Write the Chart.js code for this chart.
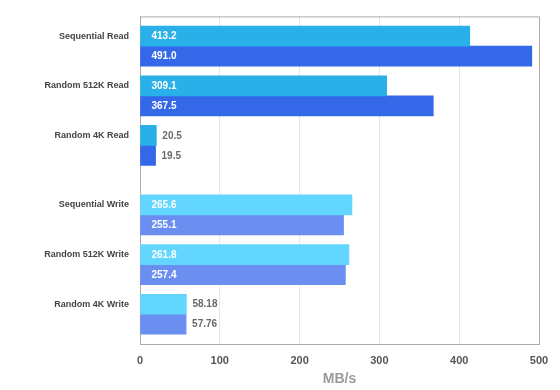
<!DOCTYPE html>
<html>
<head>
<meta charset="utf-8">
<script src="https://cdn.jsdelivr.net/npm/chart.js@4"></script>
<style>
  html, body { margin: 0; padding: 0; background: #fff; }
  #wrap { width: 560px; height: 390px; }
</style>
</head>
<body>
<div id="wrap"><canvas id="grafico"></canvas></div>
<script>
// test names, top to bottom
const tests = ['Sequential Read', 'Random 512K Read', 'Random 4K Read', 'Sequential Write', 'Random 512K Write', 'Random 4K Write'];
// MB/s, kept as the text shown on the bars
const upperBars = ['413.2', '309.1', '20.5', '265.6', '261.8', '58.18'];
const lowerBars = ['491.0', '367.5', '19.5', '255.1', '257.4', '57.76'];
const xTicks = [0, 100, 200, 300, 400, 500];

const FONT = '"Liberation Sans", Arial, Helvetica, sans-serif';

// row slots on the y scale, writes get a little extra gap
const rowAt = tests.map((t, i) => 3 + i * 5 + (i > 2 ? 2 : 0));

function isRead(i) {
    return tests[i].indexOf('Read') >= 0;
}

const upperColors = tests.map((t, i) => isRead(i) ? '#29b0e8' : '#62d6fe');
const lowerColors = tests.map((t, i) => isRead(i) ? '#3468e8' : '#6b8ef1');

const valueLabels = {
    id: 'valueLabels',
    afterDatasetsDraw(chart) {
        let ctx = chart.ctx;
        ctx.save();
        ctx.font = 'bold 10px ' + FONT;
        ctx.textBaseline = 'middle';
        ctx.textAlign = 'left';
        chart.data.datasets.forEach((ds, di) => {
            chart.getDatasetMeta(di).data.forEach((bar, i) => {
                let txt = ds.shown[i];
                if (ds.data[i].x > 100) {
                    ctx.fillStyle = '#ffffff';
                    ctx.fillText(txt, bar.base + 11, bar.y + 0.5);
                } else {
                    ctx.fillStyle = '#6a6a6a';
                    ctx.fillText(txt, bar.x + 6, bar.y + 0.5);
                }
            });
        });
        ctx.restore();
    }
};

// top and right edge of the frame
const frame = {
    id: 'frame',
    afterDraw(chart) {
        let a = chart.chartArea;
        let ctx = chart.ctx;
        ctx.save();
        ctx.strokeStyle = '#ababab';
        ctx.lineWidth = 1;
        ctx.beginPath();
        ctx.moveTo(a.left, a.top + 0.5);
        ctx.lineTo(a.right + 0.5, a.top + 0.5);
        ctx.lineTo(a.right + 0.5, a.bottom);
        ctx.stroke();
        ctx.restore();
    }
};

const data = {
    datasets: [{
            label: 'upper',
            shown: upperBars,
            data: upperBars.map((v, i) => ({ x: parseFloat(v), y: rowAt[i] })),
            backgroundColor: upperColors,
            barThickness: 20
        },
        {
            label: 'lower',
            shown: lowerBars,
            data: lowerBars.map((v, i) => ({ x: parseFloat(v), y: rowAt[i] })),
            backgroundColor: lowerColors,
            barThickness: 20
        }
    ]
};

const config = {
    type: 'bar',
    data: data,
    options: {
        indexAxis: 'y',
        responsive: true,
        maintainAspectRatio: false,
        animation: false,
        layout: { padding: { top: 15, right: 21, bottom: 0, left: 0 } },
        plugins: {
            legend: { display: false },
            tooltip: { enabled: false }
        },
        scales: {
            y: {
                type: 'linear',
                reverse: true,
                offset: false,
                min: 0,
                max: 33,
                afterBuildTicks: (axis) => {
                    axis.ticks = rowAt.map(v => ({ value: v }));
                },
                afterFit: (axis) => {
                    axis.width = 140;
                },
                grid: { display: false, drawTicks: false },
                border: { display: true, color: '#ababab', width: 1 },
                ticks: {
                    autoSkip: false,
                    padding: 11,
                    labelOffset: -10,
                    color: '#444444',
                    font: { family: FONT, size: 9, weight: 'bold' },
                    callback: (v) => tests[rowAt.indexOf(v)]
                }
            },
            x: {
                type: 'linear',
                min: xTicks[0],
                max: xTicks[xTicks.length - 1],
                afterBuildTicks: (axis) => {
                    axis.ticks = xTicks.map(v => ({ value: v }));
                },
                afterFit: (axis) => {
                    axis.height = 46;
                },
                grid: { color: '#e6e6e6', drawTicks: false },
                border: { display: true, color: '#ababab', width: 1 },
                ticks: {
                    padding: 10,
                    color: '#555555',
                    font: { family: FONT, size: 11, weight: 'bold' }
                },
                title: {
                    display: true,
                    text: 'MB/s',
                    color: '#9a9a9a',
                    padding: { top: 0, bottom: 2 },
                    font: { family: FONT, size: 14, weight: 'bold' }
                }
            }
        }
    },
    plugins: [valueLabels, frame]
};

const myChart = new Chart(document.getElementById('grafico'), config);
</script>
</body>
</html>
